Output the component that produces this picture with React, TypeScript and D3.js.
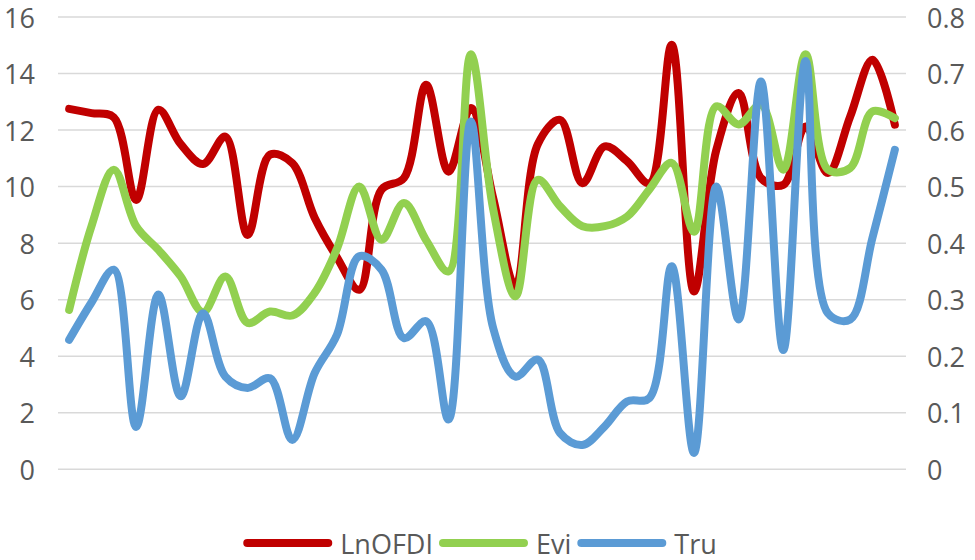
import React, { useEffect, useRef } from "react";
import * as d3 from "d3";

// LnOFDI on the left axis, Evi and Tru on the right axis
const lnOFDI = [
  12.75, 12.6, 12.45, 9.53, 12.72, 11.5, 10.8, 11.77, 8.29, 11.13, 10.83, 8.9,
  7.5, 6.35, 9.9, 10.3, 13.6, 10.53, 12.78, 9.6, 6.46, 11.5, 12.36, 10.12,
  11.42, 10.9, 10.12, 15.02, 6.29, 11.3, 13.31, 10.3, 10.06, 12.13, 10.48,
  12.48, 14.49, 12.19,
];
const evi = [
  0.282, 0.43, 0.53, 0.43, 0.388, 0.341, 0.278, 0.341, 0.259, 0.279, 0.272,
  0.312, 0.39, 0.5, 0.406, 0.471, 0.405, 0.35, 0.734, 0.46, 0.306, 0.512,
  0.465, 0.43, 0.43, 0.447, 0.495, 0.542, 0.42, 0.642, 0.61, 0.645, 0.53,
  0.734, 0.53, 0.533, 0.633, 0.621,
];
const tru = [
  0.229, 0.295, 0.353, 0.075, 0.309, 0.129, 0.276, 0.164, 0.144, 0.161, 0.052,
  0.17, 0.238, 0.377, 0.353, 0.232, 0.262, 0.088, 0.615, 0.25, 0.164, 0.194,
  0.064, 0.043, 0.076, 0.12, 0.126, 0.359, 0.029, 0.5, 0.265, 0.686, 0.211,
  0.722, 0.276, 0.265, 0.41, 0.565,
];
const leftTicks = [0, 2, 4, 6, 8, 10, 12, 14, 16];
const rightTicks = [0, 0.1, 0.2, 0.3, 0.4, 0.5, 0.6, 0.7, 0.8];
const seriesNames = ["LnOFDI", "Evi", "Tru"];
const seriesColors = ["#C00000", "#92D050", "#5B9BD5"];

const W = 975;
const H = 560;
const FONT = "'Open Sans', sans-serif";

const App: React.FC = () => {
  const ref = useRef<SVGSVGElement | null>(null);

  useEffect(() => {
    if (!ref.current) return;
    const svg = d3.select(ref.current);
    svg.selectAll("*").remove();

    const left = 58;
    const right = 906;
    const top = 17;
    const bottom = 469.3;

    const x = d3
      .scaleBand<number>()
      .domain(d3.range(lnOFDI.length))
      .range([left, right]);
    const cx = (i: number) => x(i)! + x.bandwidth() / 2;
    const yL = d3.scaleLinear().domain([0, 16]).range([bottom, top]);
    const yR = d3.scaleLinear().domain([0, 0.8]).range([bottom, top]);

    // gridlines
    svg
      .append("g")
      .selectAll("line")
      .data(leftTicks)
      .enter()
      .append("line")
      .attr("x1", left)
      .attr("x2", right)
      .attr("y1", (d) => yL(d))
      .attr("y2", (d) => yL(d))
      .attr("stroke", "#d9d9d9")
      .attr("stroke-width", 1.5);

    // left tick labels
    svg
      .append("g")
      .selectAll("text")
      .data(leftTicks)
      .enter()
      .append("text")
      .attr("x", 35)
      .attr("y", (d) => yL(d))
      .attr("text-anchor", "end")
      .attr("dominant-baseline", "central")
      .attr("font-family", FONT)
      .attr("font-size", 27)
      .attr("fill", "#595959")
      .text((d) => d);

    // right tick labels
    svg
      .append("g")
      .selectAll("text")
      .data(rightTicks)
      .enter()
      .append("text")
      .attr("x", 927)
      .attr("y", (d) => yR(d))
      .attr("text-anchor", "start")
      .attr("dominant-baseline", "central")
      .attr("font-family", FONT)
      .attr("font-size", 27)
      .attr("fill", "#595959")
      .text((d) => (d === 0 ? "0" : d3.format(".1f")(d)));

    const curve = d3.curveCatmullRom.alpha(0.5);
    const lineL = d3
      .line<number>()
      .x((_, i) => cx(i))
      .y((d) => yL(d))
      .curve(curve);
    const lineR = d3
      .line<number>()
      .x((_, i) => cx(i))
      .y((d) => yR(d))
      .curve(curve);

    const paths = [lineL(lnOFDI), lineR(evi), lineR(tru)];
    paths.forEach((d, k) => {
      svg
        .append("path")
        .attr("d", d!)
        .attr("fill", "none")
        .attr("stroke", seriesColors[k])
        .attr("stroke-width", 8)
        .attr("stroke-linejoin", "round")
        .attr("stroke-linecap", "round");
    });

    // legend, centred under the plot
    const legend = svg.append("g");
    const swatch = 81;
    const gapText = 12;
    const gapItem = 10;
    const items = seriesNames.map((name, k) => {
      const g = legend.append("g");
      g.append("line")
        .attr("x1", 0)
        .attr("x2", swatch)
        .attr("y1", 0)
        .attr("y2", 0)
        .attr("stroke", seriesColors[k])
        .attr("stroke-width", 8)
        .attr("stroke-linecap", "round");
      const t = g
        .append("text")
        .attr("x", swatch + gapText)
        .attr("y", 0)
        .attr("dominant-baseline", "central")
        .attr("font-family", FONT)
        .attr("font-size", 27)
        .attr("fill", "#595959")
        .text(name);
      const tw = (t.node() as SVGTextElement).getComputedTextLength();
      return { g, w: swatch + gapText + tw };
    });
    const total =
      d3.sum(items, (d) => d.w) + gapItem * (items.length - 1);
    let pos = (left + right) / 2 - total / 2;
    items.forEach((it) => {
      it.g.attr("transform", `translate(${pos},543)`);
      pos += it.w + gapItem;
    });
  }, []);

  return (
    <svg
      ref={ref}
      width={W}
      height={H}
      style={{ position: "absolute", left: 0, top: 0, background: "#fff" }}
    ></svg>
  );
};

export default App;
